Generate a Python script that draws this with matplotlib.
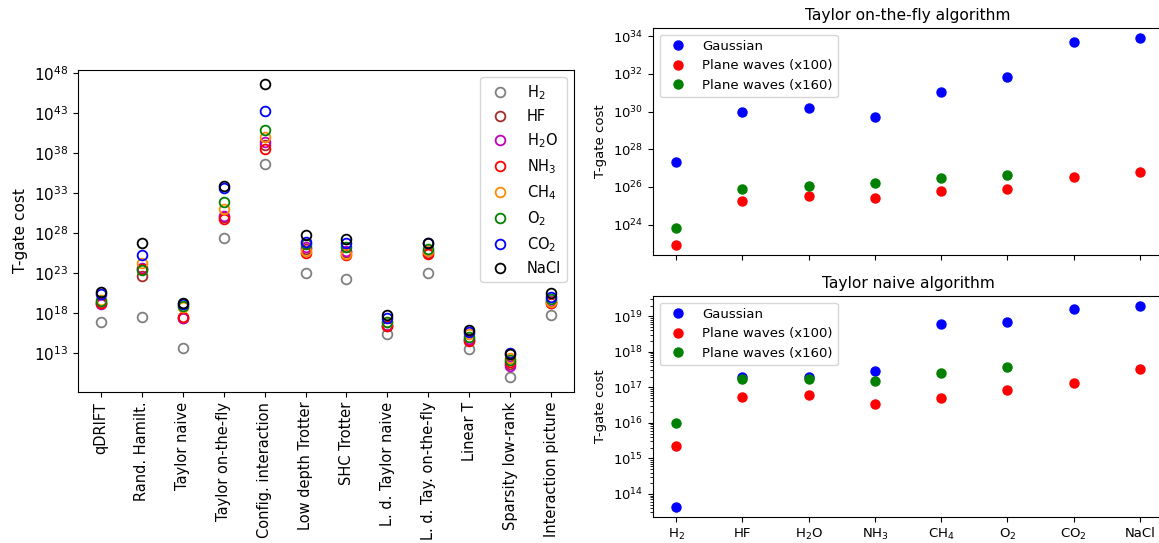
import numpy as np
import matplotlib
matplotlib.use("Agg")
import matplotlib.pyplot as plt
from matplotlib.ticker import LogLocator, NullLocator, LogFormatterMathtext

# ---------------- data ----------------
methods = ["qDRIFT", "Rand. Hamilt.", "Taylor naive", "Taylor on-the-fly",
           "Config. interaction", "Low depth Trotter", "SHC Trotter",
           "L. d. Taylor naive", "L. d. Tay. on-the-fly", "Linear T",
           "Sparsity low-rank", "Interaction picture"]

mol_labels = ["H$_2$", "HF", "H$_2$O", "NH$_3$", "CH$_4$", "O$_2$", "CO$_2$", "NaCl"]
mol_colors = ["gray", "brown", "m", "r", "darkorange", "g", "b", "k"]

cost_H2   = [6.3e16, 3.2e17, 4.3e13, 2.2e27, 4.0e36, 1.0e23, 1.6e22, 2.5e15, 1.0e23, 3.2e13, 1.0e10, 6.3e17]
cost_HF   = [2.0e19, 4.0e22, 2.0e17, 9.3e29, 1.0e39, 1.0e26, 4.0e25, 2.5e16, 3.2e25, 4.0e14, 4.0e11, 2.0e19]
cost_H2O  = [1.3e19, 4.0e23, 2.0e17, 1.5e30, 2.5e39, 1.6e26, 6.3e25, 3.2e16, 5.0e25, 5.0e14, 2.5e11, 3.2e19]
cost_NH3  = [1.8e19, 3.2e23, 2.8e17, 5.2e29, 3.2e38, 3.2e25, 1.8e25, 2.0e16, 2.2e25, 3.2e14, 6.3e11, 1.6e19]
cost_CH4  = [4.0e19, 1.6e24, 6.0e18, 1.1e31, 1.0e40, 5.0e25, 2.2e25, 6.3e16, 6.3e25, 2.0e15, 2.0e12, 2.5e19]
cost_O2   = [3.2e19, 2.5e23, 6.9e18, 7.1e31, 7.9e40, 4.0e26, 2.0e26, 7.9e16, 1.0e26, 1.0e15, 1.3e12, 5.0e19]
cost_CO2  = [2.5e20, 1.8e25, 1.5e19, 4.8e33, 2.0e43, 7.1e26, 6.3e26, 2.0e17, 5.0e26, 4.0e15, 1.0e13, 1.0e20]
cost_NaCl = [4.0e20, 6.3e26, 1.9e19, 7.8e33, 4.0e46, 5.6e27, 2.0e27, 5.6e17, 6.3e26, 7.9e15, 6.3e12, 2.8e20]
all_costs = [cost_H2, cost_HF, cost_H2O, cost_NH3, cost_CH4, cost_O2, cost_CO2, cost_NaCl]

molecules = ["H$_2$", "HF", "H$_2$O", "NH$_3$", "CH$_4$", "O$_2$", "CO$_2$", "NaCl"]

# Taylor on-the-fly
otf_gaussian = [2.2e27, 9.3e29, 1.5e30, 5.2e29, 1.1e31, 7.1e31, 4.8e33, 7.8e33]
otf_pw100    = [8.7e22, 1.8e25, 3.3e25, 2.6e25, 5.9e25, 7.6e25, 3.6e26, 5.9e26]
otf_pw160    = [6.3e23, 7.6e25, 1.15e26, 1.66e26, 3.1e26, 4.3e26]

# Taylor naive
nai_gaussian = [4.3e13, 2.0e17, 2.0e17, 2.8e17, 6.0e18, 6.9e18, 1.55e19, 1.95e19]
nai_pw100    = [2.2e15, 5.5e16, 6.0e16, 3.4e16, 5.1e16, 8.3e16, 1.3e17, 3.2e17]
nai_pw160    = [1.0e16, 1.66e17, 1.74e17, 1.55e17, 2.45e17, 3.8e17]

series_labels = ["Gaussian", "Plane waves (x100)", "Plane waves (x160)"]
series_colors = ["b", "r", "g"]

# ---------------- figure ----------------
W, H = 1159, 543
fig = plt.figure(figsize=(W / 100, H / 100), dpi=100)

def frac(x0, y_top, x1, y_bot):
    return [x0 / W, (H - y_bot) / H, (x1 - x0) / W, (y_bot - y_top) / H]

# Left panel
ax = fig.add_axes(frac(78, 70, 574, 392))
xpos = np.arange(len(methods))
for vals, lab, col in zip(all_costs, mol_labels, mol_colors):
    ax.plot(xpos, vals, linestyle="none", marker="o", markersize=7,
            markerfacecolor="none", markeredgecolor=col, markeredgewidth=1.3,
            label=lab)
ax.set_yscale("log")
ax.set_xticks(xpos)
ax.set_xticklabels(methods, rotation=90, fontsize=10.5)
ax.set_yticks([10.0 ** k for k in range(13, 49, 5)])
ax.yaxis.set_major_formatter(LogFormatterMathtext())
ax.yaxis.set_minor_locator(NullLocator())
ax.tick_params(axis="y", labelsize=11)
ax.set_ylabel("T-gate cost", fontsize=11)
ax.set_xlim(-0.55, len(methods) - 0.45)
ax.set_ylim(10 ** 8.1, 10 ** 48.4)
ax.legend(loc="upper right", fontsize=10.5, numpoints=1)

x8 = np.arange(len(molecules))

def right_panel(axr, gauss, pw100, pw160, title):
    axr.plot(x8, gauss, linestyle="none", marker="o", markersize=6.5,
             color=series_colors[0], label=series_labels[0])
    axr.plot(x8, pw100, linestyle="none", marker="o", markersize=6.5,
             color=series_colors[1], label=series_labels[1])
    axr.plot(x8[:len(pw160)], pw160, linestyle="none", marker="o", markersize=6.5,
             color=series_colors[2], label=series_labels[2])
    axr.set_yscale("log")
    axr.set_title(title, fontsize=11.2)
    axr.set_ylabel("T-gate cost", fontsize=9.5)
    axr.set_xticks(x8)
    axr.set_xlim(-0.35, 7.35)
    axr.tick_params(labelsize=9.5)
    axr.legend(loc="upper left", fontsize=9.5, numpoints=1)

# Right top panel
axt = fig.add_axes(frac(653, 28, 1163, 255))
right_panel(axt, otf_gaussian, otf_pw100, otf_pw160, "Taylor on-the-fly algorithm")
axt.set_yticks([10.0 ** k for k in range(24, 35, 2)])
axt.yaxis.set_major_formatter(LogFormatterMathtext())
axt.yaxis.set_minor_locator(NullLocator())
axt.set_ylim(10 ** 22.39, 10 ** 34.44)
axt.set_xticklabels([])

# Right bottom panel
axb = fig.add_axes(frac(653, 296, 1163, 517))
right_panel(axb, nai_gaussian, nai_pw100, nai_pw160, "Taylor naive algorithm")
axb.set_yticks([10.0 ** k for k in range(14, 20)])
axb.yaxis.set_major_formatter(LogFormatterMathtext())
axb.yaxis.set_minor_locator(LogLocator(base=10.0, subs=np.arange(2, 10), numticks=100))
axb.set_ylim(10 ** 13.35, 10 ** 19.57)
axb.set_xticklabels(molecules)

fig.savefig("out.png", dpi=100)
